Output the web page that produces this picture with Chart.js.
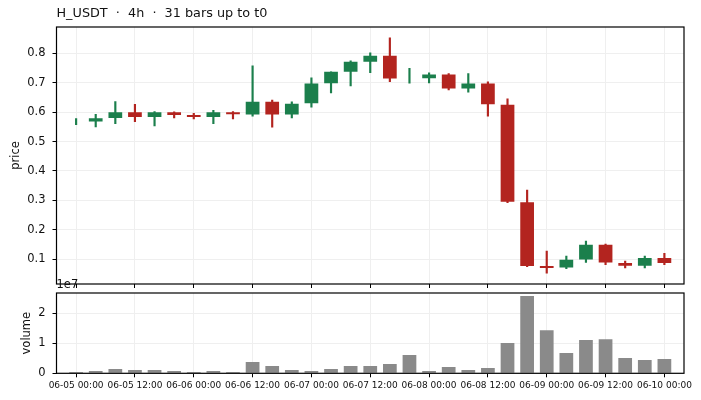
<!DOCTYPE html>
<html>
<head>
<meta charset="utf-8">
<script src="https://cdn.jsdelivr.net/npm/chart.js@4.4.1/dist/chart.umd.min.js"></script>
<style>
  body { margin: 0; background: #fff; }
  #wrap { position: relative; width: 701px; height: 400px; }
  canvas { position: absolute; left: 0; }
  #priceChart { top: 0; }
  #volChart { top: 276px; }
</style>
</head>
<body>
<div id="wrap">
  <canvas id="priceChart" width="701" height="290"></canvas>
  <canvas id="volChart" width="701" height="124"></canvas>
</div>
<script>
// 4h bars, 06-05 00:00 .. 06-10 00:00
const times = [
  "06-05 00:00", "06-05 04:00", "06-05 08:00", "06-05 12:00", "06-05 16:00", "06-05 20:00",
  "06-06 00:00", "06-06 04:00", "06-06 08:00", "06-06 12:00", "06-06 16:00", "06-06 20:00",
  "06-07 00:00", "06-07 04:00", "06-07 08:00", "06-07 12:00", "06-07 16:00", "06-07 20:00",
  "06-08 00:00", "06-08 04:00", "06-08 08:00", "06-08 12:00", "06-08 16:00", "06-08 20:00",
  "06-09 00:00", "06-09 04:00", "06-09 08:00", "06-09 12:00", "06-09 16:00", "06-09 20:00",
  "06-10 00:00"
];
const opens  = [0.567, 0.568, 0.580, 0.599, 0.583, 0.599, 0.590, 0.583, 0.599, 0.592, 0.635, 0.592, 0.630, 0.698, 0.737, 0.771,
                0.791, 0.720, 0.715, 0.728, 0.680, 0.697, 0.625, 0.294, 0.077, 0.072, 0.099, 0.149, 0.087, 0.078, 0.104];
const highs  = [0.578, 0.592, 0.636, 0.626, 0.602, 0.601, 0.596, 0.606, 0.602, 0.757, 0.641, 0.635, 0.716, 0.737, 0.774, 0.801,
                0.852, 0.749, 0.733, 0.731, 0.731, 0.703, 0.645, 0.335, 0.128, 0.111, 0.162, 0.152, 0.094, 0.111, 0.120];
const lows   = [0.557, 0.550, 0.561, 0.567, 0.553, 0.580, 0.577, 0.561, 0.577, 0.586, 0.549, 0.580, 0.617, 0.665, 0.689, 0.734,
                0.703, 0.698, 0.699, 0.675, 0.668, 0.586, 0.292, 0.075, 0.053, 0.068, 0.089, 0.082, 0.071, 0.071, 0.082];
const closes = [0.567, 0.579, 0.599, 0.583, 0.599, 0.590, 0.583, 0.599, 0.593, 0.635, 0.592, 0.628, 0.697, 0.737, 0.771, 0.791,
                0.714, 0.720, 0.728, 0.680, 0.697, 0.627, 0.295, 0.077, 0.070, 0.098, 0.149, 0.089, 0.078, 0.104, 0.087];
const volumes = [4.3e5, 7.7e5, 1.43e6, 1.1e6, 1.1e6, 7.7e5, 4.3e5, 7.7e5, 4.3e5, 3.77e6, 2.43e6, 1.1e6, 7.7e5, 1.43e6, 2.4e6, 2.43e6,
                 3.1e6, 6.1e6, 7.7e5, 2.1e6, 1.1e6, 1.77e6, 1.01e7, 2.577e7, 1.44e7, 6.8e6, 1.11e7, 1.14e7, 5.1e6, 4.4e6, 4.8e6];
const priceTicks = [0.1, 0.2, 0.3, 0.4, 0.5, 0.6, 0.7, 0.8];
const volTicks = [0, 1e7, 2e7];
const xTickIdx = [0, 3, 6, 9, 12, 15, 18, 21, 24, 27, 30];

const UP = "#1b7f4c";
const DOWN = "#b3241f";
const FONT = "'DejaVu Sans', sans-serif";
const GRID = "#efefef";

const colors = opens.map((o, i) => closes[i] >= o ? UP : DOWN);

// box round each panel + free text
function framePlugin(texts) {
  return {
    id: 'frame',
    afterDraw(chart) {
      const ctx = chart.ctx;
      const a = chart.chartArea;
      ctx.save();
      ctx.strokeStyle = "#000";
      ctx.lineWidth = 1.2;
      ctx.strokeRect(a.left, a.top, a.right - a.left, a.bottom - a.top);
      ctx.fillStyle = "#111";
      texts.forEach(t => {
        ctx.save();
        ctx.font = t.size + "px " + FONT;
        ctx.textAlign = t.align || "left";
        ctx.textBaseline = "middle";
        ctx.translate(t.x(a), t.y(a));
        if (t.rotate) ctx.rotate(-Math.PI / 2);
        ctx.fillText(t.text, 0, 0);
        ctx.restore();
      });
      ctx.restore();
    }
  };
}

function xScale(showLabels) {
  return {
    type: 'linear',
    min: -1,
    max: 31,
    offset: false,
    afterBuildTicks: s => { s.ticks = xTickIdx.map(v => ({ value: v })); },
    afterFit: s => { s.height = showLabels ? 26.7 : 6; },
    grid: { offset: false, color: GRID, tickColor: "#000", tickLength: 4, lineWidth: 1 },
    border: { display: false },
    ticks: {
      display: showLabels,
      autoSkip: false,
      maxRotation: 0,
      padding: 3,
      color: "#111",
      font: { family: FONT, size: 9 },
      callback: v => times[v]
    }
  };
}

function yFit(s) {
  s.width = 56.5;
  s.paddingTop = 0;
  s.paddingBottom = 0;
}

new Chart("priceChart", {
  type: "bar",
  data: {
    datasets: [
      {
        label: "body",
        order: 0,
        data: times.map((t, i) => ({ x: i, y: [opens[i], closes[i]] })),
        backgroundColor: colors,
        barPercentage: 0.7,
        categoryPercentage: 1
      },
      {
        label: "wick",
        order: 1,
        data: times.map((t, i) => ({ x: i, y: [lows[i], highs[i]] })),
        backgroundColor: colors,
        barThickness: 1.5
      }
    ]
  },
  options: {
    responsive: false,
    animation: false,
    layout: { padding: { top: 27, right: 17, left: 0, bottom: 0 } },
    datasets: { bar: { grouped: false, borderWidth: 0 } },
    plugins: { legend: { display: false }, tooltip: { enabled: false } },
    scales: {
      x: xScale(false),
      y: {
        min: 0.016,
        max: 0.889,
        afterBuildTicks: s => { s.ticks = priceTicks.map(v => ({ value: v })); },
        afterFit: yFit,
        grid: { color: GRID, tickColor: "#000", tickLength: 4 },
        border: { display: false },
        ticks: {
          padding: 7,
          color: "#111",
          font: { family: FONT, size: 11.5 },
          callback: v => v.toFixed(1)
        }
      }
    }
  },
  plugins: [framePlugin([
    { text: "H_USDT  \u00b7  4h  \u00b7  31 bars up to t0", size: 12.8, x: a => a.left, y: a => 14 },
    { text: "price", size: 11.5, rotate: true, align: "center", x: a => 16, y: a => (a.top + a.bottom) / 2 }
  ])]
});

new Chart("volChart", {
  type: "bar",
  data: {
    datasets: [{
      label: "volume",
      data: times.map((t, i) => ({ x: i, y: volumes[i] })),
      backgroundColor: "#8a8a8a",
      barPercentage: 0.7,
      categoryPercentage: 1,
      borderWidth: 0
    }]
  },
  options: {
    responsive: false,
    animation: false,
    layout: { padding: { top: 17, right: 17, left: 0, bottom: 0 } },
    plugins: { legend: { display: false }, tooltip: { enabled: false } },
    scales: {
      x: xScale(true),
      y: {
        min: 0,
        max: 2.68e7,
        afterBuildTicks: s => { s.ticks = volTicks.map(v => ({ value: v })); },
        afterFit: yFit,
        grid: { color: GRID, tickColor: "#000", tickLength: 4 },
        border: { display: false },
        ticks: {
          padding: 7,
          color: "#111",
          font: { family: FONT, size: 11.5 },
          callback: v => String(v / 1e7)
        }
      }
    }
  },
  plugins: [framePlugin([
    { text: "1e7", size: 11.5, x: a => a.left, y: a => a.top - 8 },
    { text: "volume", size: 11.5, rotate: true, align: "center", x: a => 27, y: a => (a.top + a.bottom) / 2 }
  ])]
});
</script>
</body>
</html>
